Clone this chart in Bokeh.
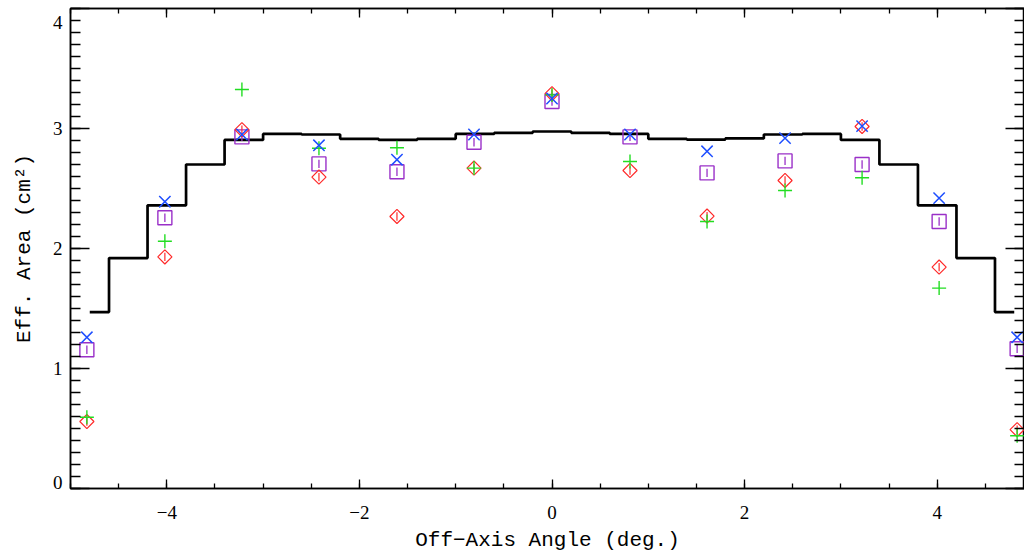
from bokeh.plotting import figure
from bokeh.models import Range1d, LinearAxis, SingleIntervalTicker, ColumnDataSource
from bokeh.embed import file_html
from bokeh.resources import INLINE
import numpy as np

# ---- data ----
hist_x = [-4.8, -4.4, -4.0, -3.6, -3.2, -2.8, -2.4, -2.0, -1.6, -1.2, -0.8, -0.4, 0.0,
          0.4, 0.8, 1.2, 1.6, 2.0, 2.4, 2.8, 3.2, 3.6, 4.0, 4.4, 4.8]
hist_y = [1.47, 1.92, 2.36, 2.70, 2.905, 2.955, 2.95, 2.914, 2.905, 2.914, 2.955, 2.964, 2.975,
          2.964, 2.955, 2.914, 2.908, 2.917, 2.95, 2.955, 2.905, 2.70, 2.36, 1.92, 1.47]

angles = [-4.83, -4.02, -3.22, -2.42, -1.61, -0.81, 0.0, 0.81, 1.61, 2.42, 3.22, 4.02, 4.83]
blue_x = [1.26, 2.39, 2.95, 2.86, 2.74, 2.95, 3.25, 2.95, 2.81, 2.92, 3.02, 2.42, 1.26]
purple_sq = [1.156, 2.256, 2.93, 2.705, 2.64, 2.886, 3.225, 2.93, 2.63, 2.73, 2.70, 2.225, 1.165]
red_dia = [0.558, 1.93, 2.99, 2.595, 2.267, 2.67, 3.29, 2.65, 2.27, 2.567, 3.017, 1.845, 0.49]
green_plus = [0.594, 2.06, 3.325, 2.836, 2.84, 2.67, 3.28, 2.725, 2.225, 2.483, 2.59, 1.67, 0.44]
err_purple = [0.035] * 13
err_red = [0.035] * 13

x_tick_labels = {-4: "\u22124", -2: "\u22122", 0: "0", 2: "2", 4: "4"}
# end labels nudged inward like the IDL original (extra empty line shifts them)
y_tick_labels = {0: "0\n", 1: "1", 2: "2", 3: "3", 4: "\n4"}

# ---- histogram-mode step path (IDL psym=10 style) ----
hx = np.array(hist_x)
hy = np.array(hist_y)
edges = np.concatenate([[hx[0]], (hx[:-1] + hx[1:]) / 2.0, [hx[-1]]])
step_x = np.repeat(edges, 2)[1:-1]
step_y = np.repeat(hy, 2)

FW, FH = 954, 480
PX_PER_UNIT = 96.3
x0 = -5.0
x1 = x0 + FW / PX_PER_UNIT

p = figure(frame_width=FW, frame_height=FH, output_backend="svg", toolbar_location=None,
           x_range=Range1d(x0, x1), y_range=Range1d(0, 4),
           min_border_left=70, min_border_right=0, min_border_top=8, min_border_bottom=0)
p.grid.visible = False
p.outline_line_color = "black"
p.outline_line_width = 1.5
p.background_fill_color = "white"
p.border_fill_color = "white"

SERIF = "Liberation Serif"
MONO = "Liberation Mono"

def style_axis(ax, major_in, minor_in, labels=True):
    ax.axis_line_color = "black"
    ax.axis_line_width = 1.5
    ax.major_tick_line_color = "black"
    ax.minor_tick_line_color = "black"
    ax.major_tick_line_width = 1.3
    ax.minor_tick_line_width = 1.3
    ax.major_tick_in = major_in
    ax.major_tick_out = 0
    ax.minor_tick_in = minor_in
    ax.minor_tick_out = 0
    if not labels:
        ax.major_label_text_font_size = "1px"
        ax.major_label_text_color = None
        ax.major_label_standoff = 0
        ax.axis_label = None

xa = p.xaxis[0]
xa.ticker = SingleIntervalTicker(interval=2, num_minor_ticks=4)
style_axis(xa, 9, 5)
xa.major_label_overrides = x_tick_labels
xa.major_label_text_font = SERIF
xa.major_label_text_font_size = "19px"
xa.major_label_text_color = "black"
xa.major_label_standoff = 17
xa.axis_label = "Off\u2212Axis Angle (deg.)"
xa.axis_label_text_font = MONO
xa.axis_label_text_font_size = "21px"
xa.axis_label_text_font_style = "normal"
xa.axis_label_text_color = "black"
xa.axis_label_standoff = 7

ya = p.yaxis[0]
ya.ticker = SingleIntervalTicker(interval=1, num_minor_ticks=10)
style_axis(ya, 19, 10)
ya.major_label_overrides = y_tick_labels
ya.major_label_text_font = SERIF
ya.major_label_text_font_size = "19px"
ya.major_label_text_line_height = 0.55
ya.major_label_text_color = "black"
ya.major_label_standoff = 8
ya.axis_label = "Eff. Area (cm\u00b2)"
ya.axis_label_text_font = MONO
ya.axis_label_text_font_size = "21px"
ya.axis_label_text_font_style = "normal"
ya.axis_label_text_color = "black"
ya.axis_label_standoff = 14

ta = LinearAxis(ticker=SingleIntervalTicker(interval=2, num_minor_ticks=4))
style_axis(ta, 9, 5, labels=False)
p.add_layout(ta, "above")
ra = LinearAxis(ticker=SingleIntervalTicker(interval=1, num_minor_ticks=10))
style_axis(ra, 19, 10, labels=False)
p.add_layout(ra, "right")

# histogram
p.line(step_x, step_y, line_color="black", line_width=2.7)

src = ColumnDataSource(dict(
    x=angles, b=blue_x, s=purple_sq, d=red_dia, g=green_plus,
    s_lo=[v - e for v, e in zip(purple_sq, err_purple)],
    s_hi=[v + e for v, e in zip(purple_sq, err_purple)],
    d_lo=[v - e for v, e in zip(red_dia, err_red)],
    d_hi=[v + e for v, e in zip(red_dia, err_red)],
))

PURPLE = "#9a30c8"
RED = "#ff2a2a"
GREEN = "#22dd22"
BLUE = "#1f4fff"

p.segment(x0="x", y0="s_lo", x1="x", y1="s_hi", source=src, line_color=PURPLE, line_width=1.3)
p.scatter(x="x", y="s", source=src, marker="square", size=14, fill_color=None,
          line_color=PURPLE, line_width=1.4)
p.segment(x0="x", y0="d_lo", x1="x", y1="d_hi", source=src, line_color=RED, line_width=1.2)
p.scatter(x="x", y="d", source=src, marker="square", angle=np.pi / 4, size=10, fill_color=None,
          line_color=RED, line_width=1.2)
p.scatter(x="x", y="g", source=src, marker="cross", size=14, line_color=GREEN, line_width=1.4)
p.scatter(x="x", y="b", source=src, marker="x", size=16, line_color=BLUE, line_width=1.5)

open("out.html", "w").write(file_html(p, INLINE))
